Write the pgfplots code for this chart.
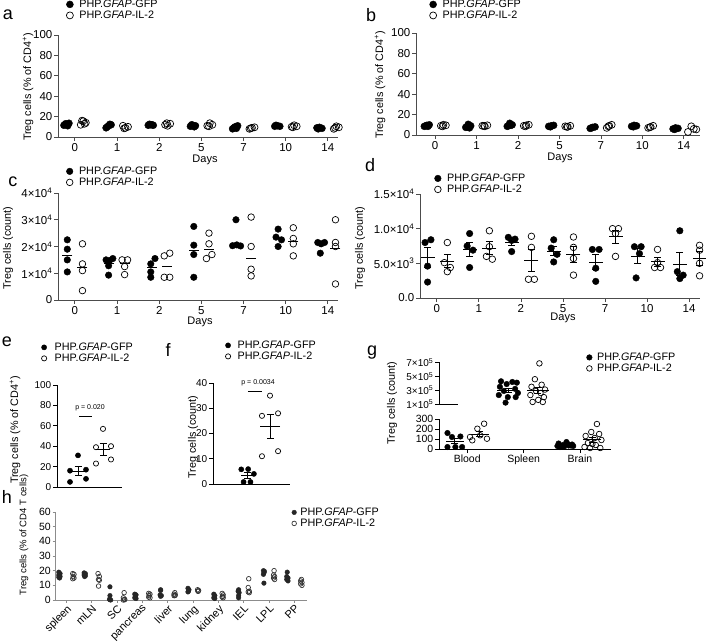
\documentclass[border=0pt]{standalone}
\usepackage{fontspec}
\setmainfont{Liberation Sans}
\usepackage{pgfplots}
\pgfplotsset{compat=1.18}
\newcommand{\fs}[1]{\fontsize{#1}{#1}\selectfont}
\newcommand{\gfp}{PHP.\textit{GFAP}-GFP}
\newcommand{\ilt}{PHP.\textit{GFAP}-IL-2}

\pgfplotsset{
  base/.style={scale only axis, axis lines=left, axis line style={-, line width=0.8pt, black!70},
    tick style={black!70, line width=0.8pt}, tick align=outside, major tick length=4pt,
    clip=false, /pgf/number format/assume math mode=true, legend cell align=left,
    yticklabel style={inner sep=1.5pt}, xticklabel style={inner sep=2pt}},
  gfp/.style={only marks, mark=*, mark size=#1, black,
    legend image code/.code={\draw[##1] plot coordinates {(0pt,0pt)};}},
  il/.style={only marks, mark=o, mark size=#1, black, mark options={line width=0.7pt},
    legend image code/.code={\draw[##1] plot coordinates {(0pt,0pt)};}},
  mline/.style={only marks, mark=-, mark size=#1, black, mark options={line width=0.9pt}, forget plot},
  ebar/.style={only marks, mark=-, mark size=#1, black, mark options={line width=0.9pt}, forget plot,
    error bars/.cd, y dir=both, y explicit, error bar style={line width=0.9pt},
    error mark options={line width=0.9pt, mark size=3.5pt, rotate=90}},
  leg/.style n args={3}{legend style={at={(axis description cs:#1,#2)}, anchor=north west,
    draw=none, fill=none, inner sep=0pt, outer sep=0pt, column sep=#3, row sep=1.2pt,
    font=\fs{10.8}, nodes={inner sep=0pt, text height=7.8pt, text depth=2pt}}},
  days/.style={xmin=-0.4, xmax=6.24, xtick={0,...,6}, xticklabels={0,1,2,5,7,10,14},
    tick label style={font=\fs{11.5}}}
}

\begin{document}
\begin{tikzpicture}
% ---------------- a
\begin{axis}[base, days, at={(58pt,-137pt)}, anchor=south west, width=280pt, height=102pt,
  ymin=0, ymax=100, ytick={0,20,...,100}, leg={0.03}{1.348}{6pt}]
\addplot[gfp=3.5pt] coordinates {(-0.26,11.5)(-0.2,12.5)(-0.14,13.5)(-0.22,13)(-0.17,11)
 (0.74,9)(0.8,11)(0.86,12)(0.77,10)(0.83,12.5) (1.74,11.5)(1.8,12)(1.86,11.5)(1.77,12.5)(1.83,12)
 (2.74,10.5)(2.8,11.5)(2.86,11)(2.77,12)(2.83,10) (3.74,8)(3.8,10)(3.86,11)(3.77,9)(3.83,8.5)
 (4.74,10.5)(4.8,11)(4.86,10.5)(4.77,11.5) (5.74,9)(5.8,9.5)(5.86,8.5)(5.77,8)};
\addlegendentry{\gfp}
\addplot[il=3.5pt] coordinates {(0.14,12)(0.2,15.5)(0.26,14)(0.17,16)(0.23,13)
 (1.14,11)(1.2,9)(1.26,10)(1.17,8.5) (2.14,12)(2.2,11)(2.26,13)(2.18,13.5)
 (3.14,11)(3.2,13.5)(3.26,12)(3.18,10.5) (4.14,8)(4.2,9)(4.26,9.5)(4.17,8.5)
 (5.14,10)(5.2,11.5)(5.26,10.5)(5.17,9.5) (6.14,8)(6.2,10.5)(6.26,9.5)(6.17,9)};
\addlegendentry{\ilt}
\end{axis}
% ---------------- b
\begin{axis}[base, days, at={(416pt,-135pt)}, anchor=south west, width=284pt, height=102pt,
  xmin=-0.46, xmax=6.39, ymin=0, ymax=100, ytick={0,20,...,100}, leg={0.048}{1.328}{6pt}]
\addplot[gfp=3.5pt] coordinates {(-0.26,8.5)(-0.2,9.5)(-0.14,10)(-0.22,9)(-0.17,8.5)
 (0.74,7.5)(0.8,10.5)(0.86,9)(0.77,8)(0.83,7) (1.74,8.5)(1.8,11.5)(1.86,10)(1.77,9)(1.83,9.5)
 (2.74,8.5)(2.8,9)(2.86,9.5)(2.78,8) (3.74,6.5)(3.8,7.5)(3.86,8)(3.78,7)
 (4.74,8.5)(4.8,9.5)(4.86,9)(4.78,8) (5.74,6)(5.8,7)(5.86,6.5)(5.78,5.5)};
\addlegendentry{\gfp}
\addplot[il=3.5pt] coordinates {(0.14,9)(0.2,10)(0.26,9.5)(0.18,8.5)
 (1.14,9)(1.2,8.5)(1.26,9.5)(1.18,9) (2.14,9)(2.2,9.5)(2.26,10)(2.18,8.5)
 (3.14,8.5)(3.2,8)(3.26,9)(3.18,8) (4.14,7)(4.2,9)(4.26,10)(4.18,8.5)
 (5.14,7)(5.2,8)(5.26,9)(5.18,7.5) (6.1,3)(6.18,8.5)(6.24,6)(6.3,5.5)};
\addlegendentry{\ilt}
\end{axis}
% ---------------- c
\begin{axis}[base, days, at={(58pt,-300pt)}, anchor=south west, width=280pt, height=107pt,
  ymin=0, ymax=40, ytick={0,10,20,30,40},
  yticklabels={0,1×10\textsuperscript{4},2×10\textsuperscript{4},3×10\textsuperscript{4},4×10\textsuperscript{4}},
  leg={0.03}{1.248}{6pt}]
\addplot[gfp=3.3pt] coordinates {(-0.18,22.5)(-0.18,19)(-0.18,15)(-0.18,10.5)
 (0.74,15)(0.82,14.7)(0.9,15.5)(0.8,12.8)(0.8,9.3) (1.8,13.5)(1.9,15.5)(1.8,10.5)(1.8,8.5)
 (2.82,27.5)(2.82,20.5)(2.82,17)(2.82,8.5) (3.82,30)(3.74,20.3)(3.84,20.6)(3.93,20.2)
 (4.82,26.5)(4.77,23.5)(4.9,22.5)(4.82,20) (5.76,21.5)(5.84,21)(5.92,21.5)(5.82,17.5)};
\addlegendentry{\gfp}
\addplot[il=3.3pt] coordinates {(0.18,21)(0.18,13.5)(0.18,11)(0.18,3.5)
 (1.12,15)(1.25,15)(1.18,12.5)(1.18,9.5) (2.12,16.5)(2.25,17.5)(2.12,8.5)(2.25,8.5)
 (3.18,25)(3.18,21)(3.12,15.5)(3.25,17) (4.18,31)(4.18,20)(4.18,11.5)(4.18,9)
 (5.18,27)(5.18,23)(5.18,21)(5.18,16.5) (6.18,30)(6.18,21.5)(6.18,20)(6.18,6)};
\addlegendentry{\ilt}
\addplot[mline=5pt] coordinates {(-0.18,16.8)(0.82,13.8)(1.82,12)(2.82,18.7)(3.82,20.4)(4.82,23)(5.82,21.2)
 (0.18,12.2)(1.18,13.7)(2.18,12.5)(3.18,19)(4.18,15.5)(5.18,21.8)(6.18,19.4)};
\end{axis}
% ---------------- d
\begin{axis}[base, days, at={(420pt,-298pt)}, anchor=south west, width=280pt, height=104pt,
  xmin=-0.4, xmax=6.26, ymin=0, ymax=15, ytick={0,5,10,15},
  yticklabels={0.0,5.0×10\textsuperscript{3},1.0×10\textsuperscript{4},1.5×10\textsuperscript{4}},
  leg={0.052}{1.197}{6pt}]
\addplot[gfp=3.3pt] coordinates {(-0.28,8.0)(-0.14,8.4)(-0.22,4.6)(-0.22,2.3)
 (0.78,9.3)(0.72,7.5)(0.86,6.9)(0.78,4.4) (1.7,8.75)(1.86,8.5)(1.78,8.3)(1.78,6.7)
 (2.78,8.4)(2.72,7.2)(2.86,6.3)(2.78,5.2) (3.7,7.0)(3.86,7.0)(3.78,4.3)(3.78,2.4)
 (4.7,7.4)(4.86,7.4)(4.82,6.4)(4.74,2.9) (5.78,9.7)(5.72,3.8)(5.86,3.3)(5.78,2.8)};
\addlegendentry{\gfp}
\addplot[il=3.3pt] coordinates {(0.25,8.0)(0.18,5.1)(0.32,4.4)(0.25,3.8)
 (1.25,9.7)(1.25,7.4)(1.18,6.0)(1.32,5.6) (2.25,8.9)(2.25,7.3)(2.18,2.7)(2.32,2.7)
 (3.25,8.8)(3.25,7.3)(3.25,5.7)(3.25,3.3) (4.18,10)(4.32,10)(4.25,9.3)(4.25,6.0)
 (5.25,7.0)(5.25,5.1)(5.18,4.4)(5.32,4.4) (6.25,7.6)(6.25,6.9)(6.25,5.0)(6.25,3.2)};
\addlegendentry{\ilt}
\addplot[ebar=7pt] coordinates {(-0.22,5.83) +- (0,1.45) (0.78,7.03) +- (0,1.01) (1.78,8.06) +- (0,0.46)
 (2.78,6.78) +- (0,0.68) (3.78,5.18) +- (0,1.12) (4.78,6.03) +- (0,1.07) (5.78,4.9) +- (0,1.61)
 (0.25,5.33) +- (0,0.93) (1.25,7.18) +- (0,0.93) (2.25,5.4) +- (0,1.59) (3.25,6.28) +- (0,1.18)
 (4.25,8.83) +- (0,0.96) (5.25,5.23) +- (0,0.61) (6.25,5.68) +- (0,0.99)};
\end{axis}
% ---------------- e
\begin{axis}[base, at={(57pt,-487pt)}, anchor=south west, width=65pt, height=102pt,
  axis line style={-, line width=0.8pt, black}, tick style={black, line width=0.8pt},
  xmin=0.16, xmax=2.76, xtick=\empty, ymin=0, ymax=100, ytick={0,20,...,100},
  yticklabel style={font=\fs{10}}, leg={-0.238}{1.417}{8pt}]
\addplot[gfp=2.6pt] coordinates {(1.0,31)(0.68,16)(1.32,17)(1.32,8)(0.68,5)};
\addlegendentry{\gfp}
\addplot[il=2.6pt] coordinates {(2.0,57)(1.72,39)(2.32,40)(1.72,23)(2.32,27)};
\addlegendentry{\ilt}
\addplot[ebar=7pt] coordinates {(1,15.4) +- (0,4.5) (2,37.2) +- (0,5.95)};
\addplot[black, line width=1pt, forget plot] coordinates {(1.04,69.6)(1.56,69.6)};
\node[font=\fs{7}] at (axis cs:1.48,77.5) {p = 0.020};
\end{axis}
% ---------------- f
\begin{axis}[base, at={(213pt,-484pt)}, anchor=south west, width=77pt, height=101pt,
  axis line style={-, line width=0.8pt, black}, tick style={black, line width=0.8pt},
  xmin=-0.48, xmax=2.87, xtick=\empty, ymin=0, ymax=40, ytick={0,10,...,40},
  yticklabel style={font=\fs{10}}, leg={0.162}{1.421}{7pt}]
\addplot[gfp=2.6pt] coordinates {(0.75,5.8)(1.05,5.9)(1.3,4.0)(0.85,0.8)(1.15,0.8)};
\addlegendentry{\gfp}
\addplot[il=2.6pt] coordinates {(2.0,35)(1.65,27)(2.35,28)(1.65,11)(2.35,13)};
\addlegendentry{\ilt}
\addplot[ebar=6.5pt] coordinates {(1,3.46) +- (0,1.14)};
\addplot[ebar=10pt] coordinates {(2,22.8) +- (0,4.63)};
\addplot[black, line width=1pt, forget plot] coordinates {(1.04,36.5)(1.65,36.5)};
\node[font=\fs{7}] at (axis cs:1.48,40.2) {p = 0.0034};
\end{axis}
% ---------------- g upper
\begin{axis}[base, at={(439pt,-404pt)}, anchor=south west, width=172pt, height=42pt,
  axis line style={-, line width=0.8pt, black}, tick style={black, line width=0.8pt},
  axis x line=none, xmin=-0.5, xmax=2.55, ymin=1, ymax=7.1, ytick={1,3,5,7},
  yticklabels={1×10\textsuperscript{5},3×10\textsuperscript{5},5×10\textsuperscript{5},7×10\textsuperscript{5}},
  yticklabel style={font=\fs{10}}, leg={0.858}{1.226}{5pt}]
\addplot[gfp=2.8pt] coordinates {(0.6,4.3)(0.8,4.2)(0.88,4.1)(0.7,3.9)(0.58,3.5)(0.85,3.2)
 (0.65,2.9)(0.9,2.6)(0.56,2.3)(0.72,2.0)(0.86,2.0)(0.68,1.2)};
\addlegendentry{\gfp}
\addplot[il=2.8pt] coordinates {(1.28,6.9)(1.2,4.6)(1.32,3.8)(1.14,3.5)(1.38,3.1)(1.22,2.9)
 (1.3,2.6)(1.12,2.3)(1.36,2.0)(1.26,1.6)(1.16,1.3)(1.34,1.3)};
\addlegendentry{\ilt}
\addplot[ebar=11pt] coordinates {(0.73,3.02) +- (0,0.29) (1.25,2.99) +- (0,0.46)};
\addplot[black, line width=0.8pt, forget plot] coordinates {(-0.5,1)(-0.16,1)};
\end{axis}
% ---------------- g lower
\begin{axis}[base, at={(439pt,-449pt)}, anchor=south west, width=172pt, height=30pt,
  axis line style={-, line width=0.8pt, black}, tick style={black, line width=0.8pt},
  xmin=-0.5, xmax=2.55, xtick={0,1,2}, xticklabels={Blood,Spleen,Brain},
  ymin=0, ymax=300, ytick={0,100,200,300}, tick label style={font=\fs{10.5}}]
\addplot[gfp=2.8pt] coordinates {(-0.35,160)(-0.27,120)(-0.12,125)(-0.35,20)(-0.21,20)(-0.09,20)
 (1.76,70)(1.62,55)(1.86,45)(1.7,40)(1.8,35)(1.6,30)(1.88,30)(1.72,25)(1.66,20)(1.84,35)(1.78,50)(1.64,20)};
\addplot[il=2.8pt] coordinates {(0.3,253)(0.18,203)(0.05,120)(0.23,137)(0.35,103)(0.09,87)
 (2.3,250)(2.2,170)(2.34,150)(2.1,130)(2.26,110)(2.38,90)(2.14,60)(2.28,40)(2.08,20)(2.36,10)(2.18,10)(2.22,50)};
\addplot[ebar=9pt] coordinates {(-0.22,77.5) +- (0,26.3) (0.22,150.5) +- (0,26.2)
 (1.74,37.9) +- (0,4.2) (2.22,90.8) +- (0,21.4)};
\end{axis}
% ---------------- h
\begin{axis}[base, at={(55pt,-600pt)}, anchor=south west, width=252pt, height=88pt,
  axis line style={-, line width=0.8pt, black!45}, tick style={black!45, line width=0.8pt},
  major tick length=2.5pt,
  xmin=-0.45, xmax=9.5, xtick={0,...,9},
  xticklabels={spleen,mLN,SC,pancreas,liver,lung,kidney,IEL,LPL,PP},
  xticklabel style={rotate=45, anchor=north east, font=\fs{11}, inner sep=1pt},
  ymin=0, ymax=60, ytick={0,10,...,60}, yticklabel style={font=\fs{10.5}},
  leg={0.94}{1.051}{4pt}]
\addplot[gfp=2.3pt, black!85] coordinates {(-0.3,19)(-0.25,18)(-0.3,17)(-0.25,16)(-0.3,15.5)(-0.27,15)
 (0.7,18.5)(0.75,18)(0.7,17)(0.75,16.5)(0.72,16)
 (1.72,9)(1.72,3)(1.7,0.5)(1.75,0)(1.72,0.2)
 (2.7,4)(2.75,3.5)(2.72,2.5)(2.7,1.5)(2.75,1)
 (3.72,7)(3.72,6.5)(3.7,3.5)(3.75,3)(3.72,2.5)
 (4.8,8)(4.84,7)(4.82,6)(4.8,5.5)
 (5.82,4)(5.86,3)(5.84,2)(5.82,1.5)(5.86,1)
 (6.8,7)(6.78,6)(6.82,5)(6.8,3)(6.8,1.5)
 (7.78,20)(7.82,19.5)(7.8,18.5)(7.78,17.5)(7.8,11.5)
 (8.72,19)(8.7,16)(8.75,15)(8.7,14)(8.75,13)};
\addlegendentry{\gfp}
\addplot[il=2.3pt, black!80] coordinates {(0.25,18)(0.3,17.5)(0.27,16)(0.3,15)(0.25,14.5)
 (1.25,18)(1.3,16)(1.27,14)(1.3,13.5)(1.27,9.5)
 (2.28,5)(2.25,1.5)(2.3,0.5)(2.25,0)(2.3,0.2)
 (3.25,4.5)(3.3,4)(3.27,3)(3.25,2)(3.3,1.5)
 (4.28,5)(4.25,4)(4.3,3.5)(4.28,3)(4.25,3)
 (5.18,7)(5.22,6.5)(5.2,6)(5.2,6)
 (6.15,4.5)(6.19,3.5)(6.17,2.5)(6.15,2)(6.19,1.5)
 (7.2,14.5)(7.18,8.5)(7.22,6)(7.18,5.5)(7.22,5)
 (8.2,20)(8.18,17)(8.22,16)(8.18,15)(8.22,14)
 (9.28,14)(9.25,13)(9.3,12)(9.25,11)(9.3,10)};
\addlegendentry{\ilt}
\end{axis}
% ---------------- text
\node[font=\fs{18}] at (8pt,-15pt) {a};
\node[font=\fs{18}] at (371pt,-15pt) {b};
\node[font=\fs{18}] at (13pt,-182pt) {c};
\node[font=\fs{18}] at (370pt,-165pt) {d};
\node[font=\fs{18}] at (7pt,-342pt) {e};
\node[font=\fs{18}] at (168pt,-350pt) {f};
\node[font=\fs{18}] at (372pt,-353pt) {g};
\node[font=\fs{18}] at (7pt,-497pt) {h};
\node[font=\fs{11}] at (205pt,-160pt) {Days};
\node[font=\fs{11}] at (560pt,-158pt) {Days};
\node[font=\fs{11}] at (200pt,-322pt) {Days};
\node[font=\fs{11}] at (563pt,-318pt) {Days};
\node[rotate=90, font=\fs{10.8}] at (28pt,-87pt) {Treg cells (\% of CD4\textsuperscript{+})};
\node[rotate=90, font=\fs{10.8}] at (380pt,-85pt) {Treg cells (\% of CD4\textsuperscript{+})};
\node[rotate=90, font=\fs{10.8}] at (8pt,-248pt) {Treg cells (count)};
\node[rotate=90, font=\fs{10.8}] at (360pt,-248pt) {Treg cells (count)};
\node[rotate=90, font=\fs{10.8}] at (15pt,-430pt) {Treg cells (\% of CD4\textsuperscript{+})};
\node[rotate=90, font=\fs{10.8}] at (193pt,-437pt) {Treg cells (count)};
\node[rotate=90, font=\fs{10.8}] at (392pt,-403pt) {Treg cells (count)};
\node[rotate=90, font=\fs{9.5}] at (24pt,-535pt) {Treg cells (\% of CD4 T cells)};
\pgfresetboundingbox
\path[use as bounding box] (0pt,0pt) rectangle (706pt,-642pt);
\end{tikzpicture}
\end{document}
